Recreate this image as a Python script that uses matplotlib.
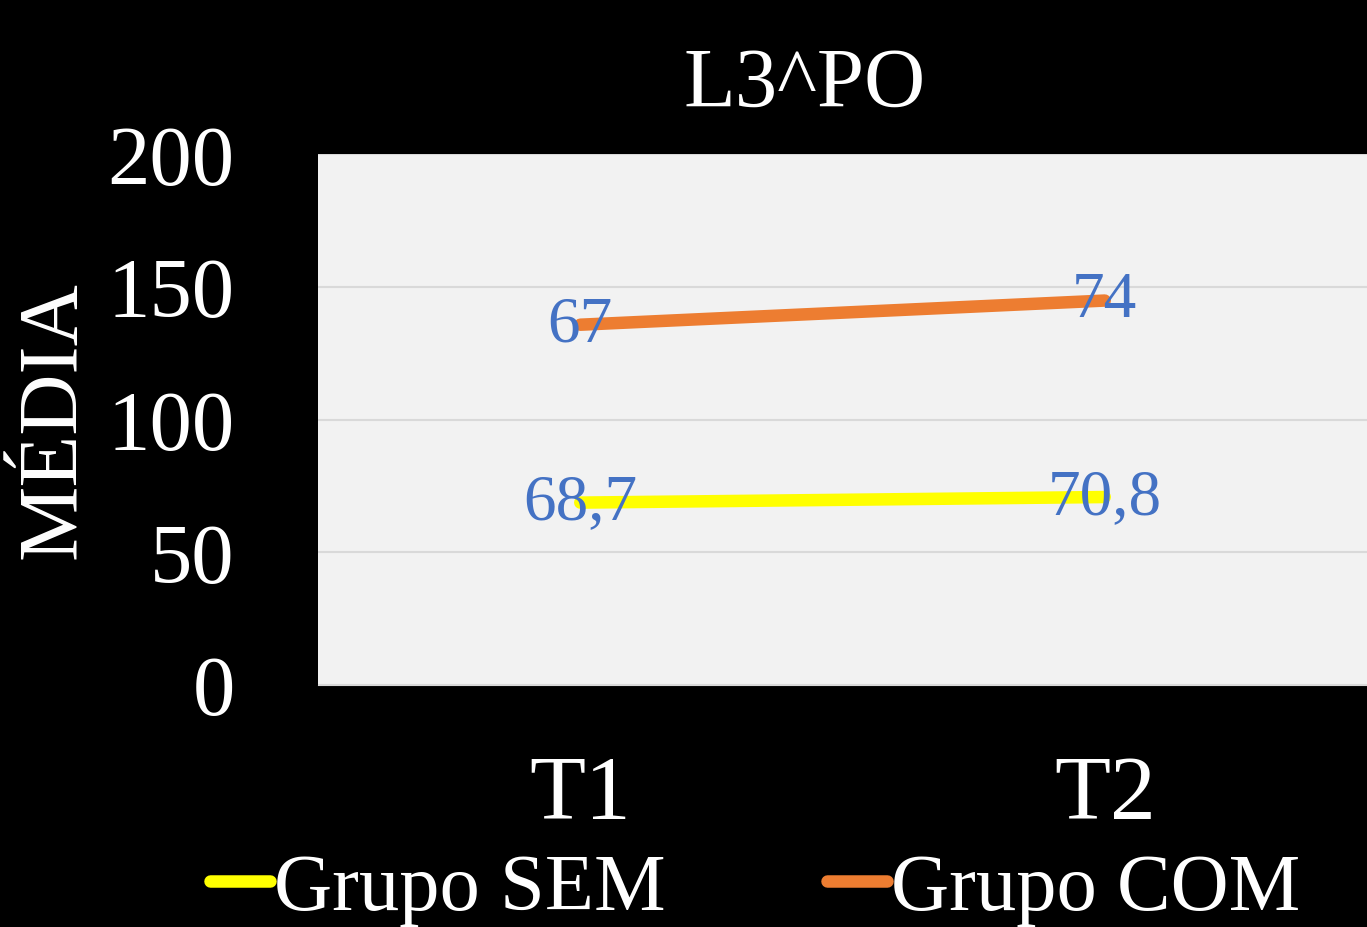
import matplotlib
matplotlib.use("Agg")
import matplotlib.pyplot as plt
import numpy as np

categories = ["T1", "T2"]
sem_values = [68.7, 70.8]
com_values = [67, 74]
sem_labels = ["68,7", "70,8"]
com_labels = ["67", "74"]
series_names = ["Grupo SEM", "Grupo COM"]
yticks = [0, 50, 100, 150, 200]
title = "L3^PO"
ylabel = "MÉDIA"

plt.rcParams['font.family'] = ['Liberation Serif', 'DejaVu Serif']

W, H = 1367, 928
fig = plt.figure(figsize=(W / 100, H / 100), dpi=100, facecolor="black")
ax = fig.add_axes([318 / W, 1 - 686 / H, (1367 - 318) / W, (686 - 155) / H])
ax.set_facecolor("#f2f2f2")

x = np.arange(len(categories))
sem = np.array(sem_values)
com_stacked = sem + np.array(com_values)

l1, = ax.plot(x, sem, color="#ffff00", lw=9, solid_capstyle="round", label=series_names[0], zorder=3)
l2, = ax.plot(x, com_stacked, color="#ed7d31", lw=9, solid_capstyle="round", label=series_names[1], zorder=3)

label_color = "#4472c4"
for xi, yi, t in zip(x, sem, sem_labels):
    ax.text(xi, yi, t, ha="center", va="center", fontsize=47, color=label_color, zorder=4)
for xi, yi, t in zip(x, com_stacked, com_labels):
    ax.text(xi, yi, t, ha="center", va="center", fontsize=47, color=label_color, zorder=4)

ax.set_xlim(-0.5, 1.5)
ax.set_ylim(0, 200)
ax.set_yticks(yticks)
ax.set_yticklabels([str(v) for v in yticks])
ax.set_xticks(x)
ax.set_xticklabels(categories)
ax.yaxis.grid(True, color="#d9d9d9", lw=1.5)
ax.set_axisbelow(True)
ax.tick_params(axis="y", length=0, pad=60, labelsize=61, labelcolor="white")
ax.tick_params(axis="x", length=0, pad=50, labelsize=66, labelcolor="white")
for s in ax.spines.values():
    s.set_visible(False)
ax.spines["bottom"].set_visible(True)
ax.spines["bottom"].set_color("#d9d9d9")

fig.text(805 / W, 1 - 86 / H, title, ha="center", va="center", fontsize=61, color="white")
fig.text(55 / W, 1 - 420 / H, ylabel, ha="center", va="center", rotation=90, fontsize=61, color="white")

leg = fig.legend(handles=[l1, l2], loc="center", bbox_to_anchor=(755 / W, 1 - 890 / H), ncol=2,
                 frameon=False, fontsize=58, labelcolor="white", handlelength=0.75,
                 handletextpad=0.05, columnspacing=2.0, borderaxespad=0)

fig.savefig("out.png", dpi=100, facecolor="black")
